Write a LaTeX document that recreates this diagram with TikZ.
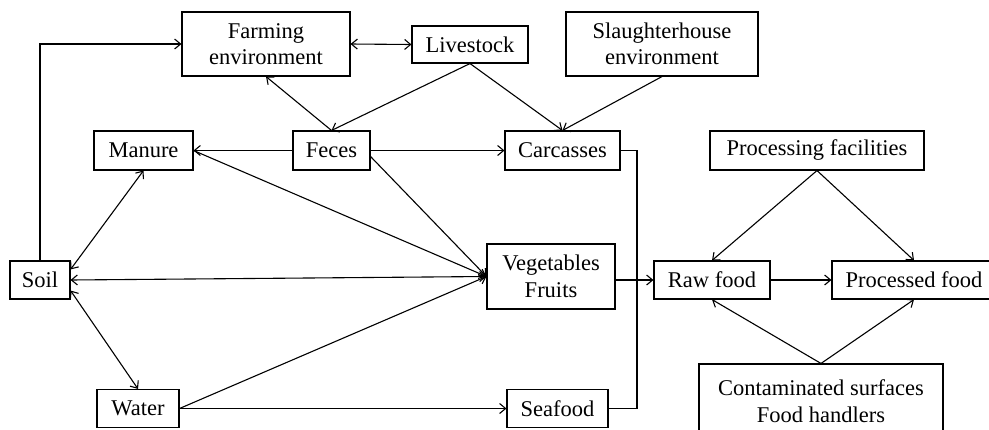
\documentclass[tikz,border=0pt]{standalone}
\usepackage{fontspec}
\setmainfont{Liberation Serif}
\usetikzlibrary{arrows.meta,calc}
\begin{document}
\begin{tikzpicture}[x=1pt,y=-1pt,
  box/.style={draw, line width=1.1pt, inner sep=0pt, align=center,
    font=\fontsize{22.5}{26.5}\selectfont},
  conn/.style={line width=1.1pt},
  arr/.style={conn, -{Straight Barb[length=6pt,width=10pt,line width=1.1pt]}},
  barr/.style={conn, {Straight Barb[length=6pt,width=10pt,line width=1.1pt]}-{Straight Barb[length=6pt,width=10pt,line width=1.1pt]}}
]
\useasboundingbox (0,0) rectangle (989,429);
\clip (0,0) rectangle (989,429);
\fill[white] (0,0) rectangle (989,429);

\node[box, minimum width=168pt, minimum height=64pt] (farm) at (266,44) {Farming\\environment};
\node[box, minimum width=116pt, minimum height=37pt] (live) at (470,44.5) {Livestock};
\node[box, minimum width=192pt, minimum height=64pt] (slaugh) at (662,44) {Slaughterhouse\\environment};
\node[box, minimum width=99pt, minimum height=39pt] (manure) at (143.5,150.5) {Manure};
\node[box, minimum width=77pt, minimum height=39pt] (feces) at (331.5,150.5) {Feces};
\node[box, minimum width=115pt, minimum height=39pt] (carc) at (562.5,150.5) {Carcasses};
\node[box, minimum width=214pt, minimum height=39pt] (proc) at (817,150.5) {Processing facilities};
\node[box, minimum width=60pt, minimum height=38pt] (soil) at (40,280) {Soil};
\node[box, minimum width=128pt, minimum height=65pt] (veg) at (551,276.5) {Vegetables\\Fruits};
\node[box, minimum width=116pt, minimum height=38pt] (raw) at (712,280) {Raw food};
\node[box, minimum width=164pt, minimum height=38pt] (processed) at (914,280) {Processed food};
\node[box, minimum width=244pt, minimum height=74pt] (cont) at (821,401) {Contaminated surfaces\\Food handlers};
\node[box, minimum width=82pt, minimum height=38pt] (water) at (138,408.5) {Water};
\node[box, minimum width=101pt, minimum height=38pt] (seafood) at (557.5,408.5) {Seafood};

\coordinate (j) at (637,408.5);

\draw[arr] (soil.north) |- (farm.west);
\draw[barr] (farm.east) -- (live.west);
\draw[arr] (live.south) -- (feces.north);
\draw[arr] (feces.north) -- (farm.south);
\draw[arr] (live.south) -- (carc.north);
\draw[arr] (slaugh.south) -- (carc.north);
\draw[arr] (feces.west) -- (manure.east);
\draw[arr] (feces.east) -- (carc.west);
\draw[arr] (manure.east) -- (veg.west);
\draw[arr] ([yshift=-6pt]feces.east) -- (veg.west);
\draw[barr] (soil.east) -- (veg.west);
\draw[barr] ([yshift=-9pt]soil.north east) -- (manure.south);
\draw[barr] ([yshift=9pt]soil.south east) -- (water.north);
\draw[arr] (water.east) -- (veg.west);
\draw[arr] (water.east) -- (seafood.west);
\draw[conn] (carc.east) -| (j) -- (seafood.east);
\draw[arr] (veg.east |- raw.west) -- (raw.west);
\draw[arr] (proc.south) -- (raw.north);
\draw[arr] (proc.south) -- (processed.north);
\draw[arr] (raw.east) -- (processed.west);
\draw[arr] (cont.north) -- (raw.south);
\draw[arr] (cont.north) -- (processed.south);
\end{tikzpicture}
\end{document}
